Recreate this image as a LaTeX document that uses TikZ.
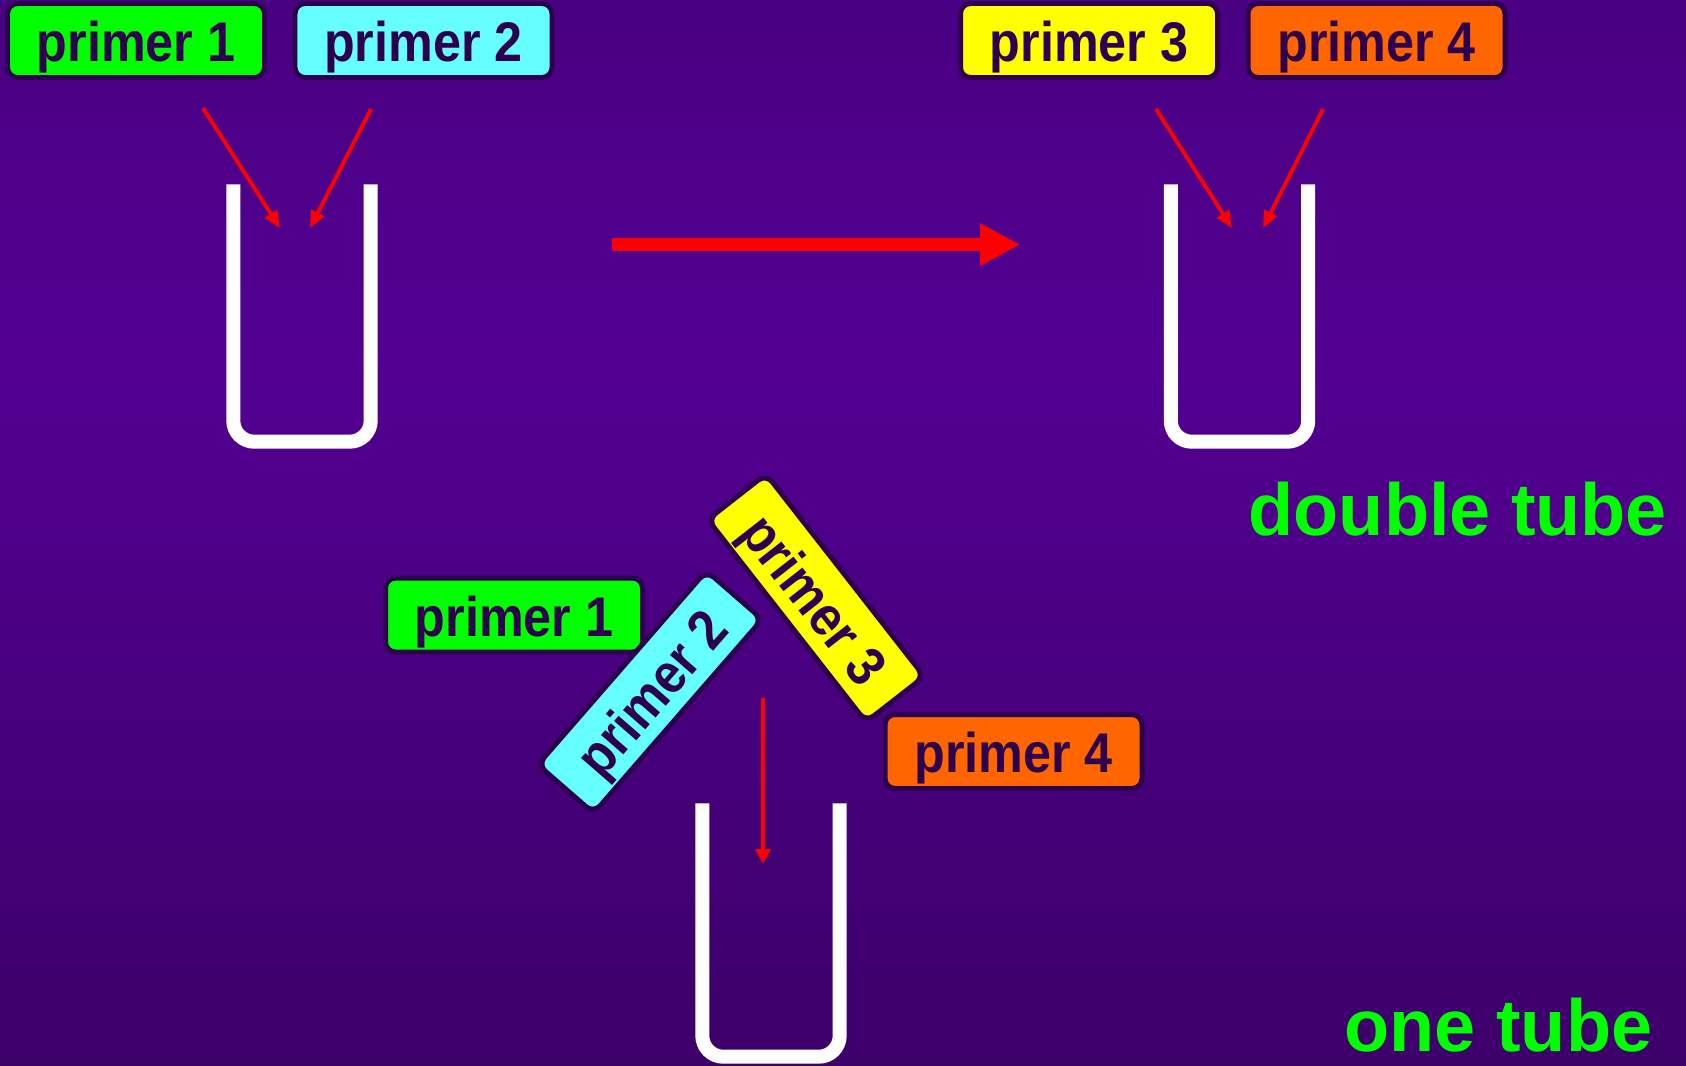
\documentclass[tikz,border=0pt]{standalone}
\usepackage{fontspec}
\setmainfont{Liberation Sans}
\newfontfamily\primerfont[FakeStretch=0.9]{Liberation Sans}
\usepackage {tikz}
\usetikzlibrary {positioning,arrows.meta}

\definecolor{bgtop}{HTML}{3C006A}
\definecolor{bgmid}{HTML}{530092}
\definecolor{bgbot}{HTML}{2B004A}
\definecolor{ink}{HTML}{2D004F}
\definecolor{pgreen}{HTML}{00FF00}
\definecolor{pcyan}{HTML}{66FFFF}
\definecolor{pyellow}{HTML}{FFFF00}
\definecolor{porange}{HTML}{FF6600}
\pgfdeclareverticalshading{bgshade}{100bp}{color(0bp)=(bgbot); color(58bp)=(bgmid); color(100bp)=(bgtop)}

\begin{document}
\begin{tikzpicture}[auto ,node distance =1 cm and 2.875cm ,on grid ,
    primer/.style ={ rectangle ,rounded corners =0.1cm ,draw =ink ,
    line width =1.42pt , text =ink , minimum width =2.57cm ,
    minimum height =0.74cm , text height =12.2pt , text depth =0pt ,
    font =\primerfont\bfseries\fontsize{15.9}{18}\selectfont},
    tube/.style ={ rectangle , inner sep =0pt , minimum width =1.36cm ,
    minimum height =2.56cm},
    wall/.style ={ draw =white , line width =0.14cm , rounded corners =0.21cm},
    feed/.style ={ red , line width =1.1pt ,
    -{Triangle[length =1.7mm ,width =1.4mm]}},
    drop/.style ={ red , line width =1.4pt ,
    -{Triangle[length =1.5mm ,width =1.5mm]}},
    step arrow/.style ={ red , line width =0.13cm ,
    -{Triangle[length =4mm ,width =4mm]}},
    tag/.style ={ text =pgreen , inner sep =0pt ,
    font =\bfseries\fontsize{21}{24}\selectfont}
    ]
    \useasboundingbox (0,0) rectangle (16.86,-10.65);
    \shade[shading =bgshade] (0,0) rectangle (16.86,-10.65);

    % double tube
    \node[primer ,fill =pgreen] (P1) at (1.36,-0.405) {primer 1};
    \node[primer ,fill =pcyan] (P2) [right = of P1] {primer 2};
    \node[primer ,fill =pyellow] (P3) at (10.89,-0.405) {primer 3};
    \node[primer ,fill =porange] (P4) [right = of P3] {primer 4};
    \node[tube] (TA) at (3.02,-3.13) {};
    \node[tube] (TB) at (12.395,-3.13) {};
    \coordinate (A1) at (2.03,-1.08);
    \coordinate (A1e) at (2.80,-2.28);
    \coordinate (A2) at (3.71,-1.09);
    \coordinate (A2e) at (3.10,-2.28);
    \coordinate (B1) at (11.56,-1.09);
    \coordinate (B1e) at (12.32,-2.28);
    \coordinate (B2) at (13.23,-1.09);
    \coordinate (B2e) at (12.63,-2.28);
    \draw[feed] (A1) -- (A1e);
    \draw[feed] (A2) -- (A2e);
    \draw[feed] (B1) -- (B1e);
    \draw[feed] (B2) -- (B2e);
    \coordinate (S1) at (6.12,-2.445);
    \coordinate (S2) at (10.20,-2.445);
    \draw[step arrow] (S1) -- (S2);
    \node[tag ,anchor =base west] (dbl) at (12.48,-5.35) {double tube};

    % one tube
    \node[primer ,fill =pgreen] (Q1) at (5.14,-6.15) {primer 1};
    \node[primer ,fill =pcyan ,rotate =49] (Q2) at (6.50,-6.92) {primer 2};
    \node[primer ,fill =pyellow ,rotate =-52] (Q3) at (8.16,-5.98) {primer 3};
    \node[primer ,fill =porange] (Q4) at (10.135,-7.515) {primer 4};
    \node[tube ,minimum height =2.52cm] (TC) at (7.71,-9.30) {};
    \coordinate (C1) at (7.63,-6.98);
    \coordinate (C1e) at (7.63,-8.64);
    \draw[drop] (C1) -- (C1e);
    \node[tag ,anchor =base west] (one) at (13.44,-10.51) {one tube};

    \foreach \t in {TA,TB,TC}
      \draw[wall] (\t.north west) -- (\t.south west) -- (\t.south east) -- (\t.north east);
\end{tikzpicture}
\end{document}
